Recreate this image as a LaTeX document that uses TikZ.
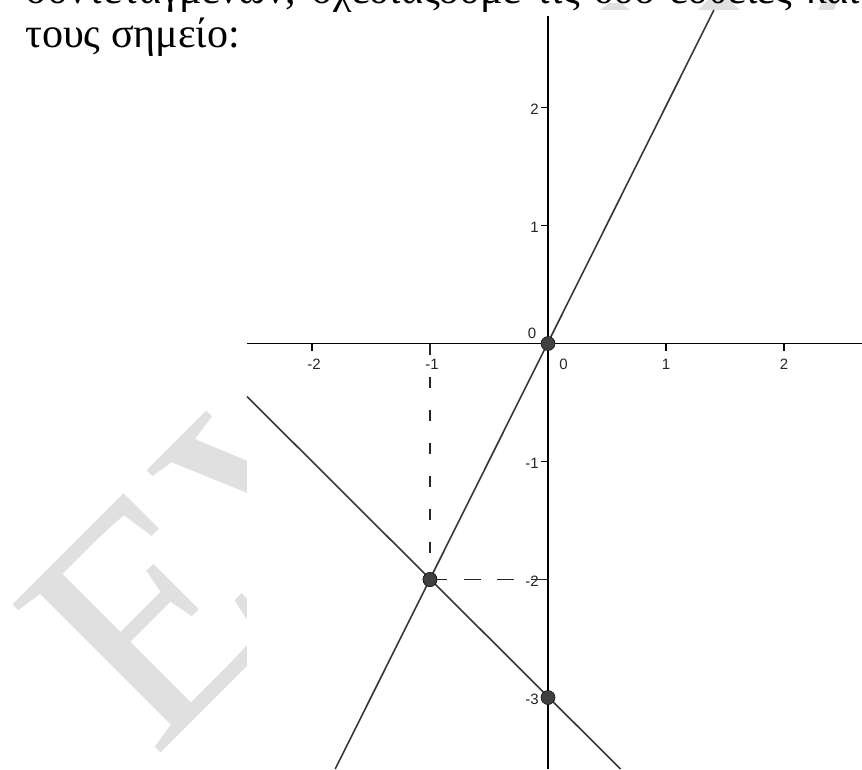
\documentclass[tikz,border=0pt]{standalone}
\usepackage{fontspec}
\setmainfont{Liberation Serif}
\newfontfamily\labfont{Liberation Sans}
\definecolor{wmgray}{RGB}{224,224,224}
\definecolor{curve}{RGB}{55,55,55}
\definecolor{ptfill}{RGB}{64,64,64}
\begin{document}
\begin{tikzpicture}[x=1pt,y=-1pt,
  axisline/.style={line width=1.6pt,black},
  graphline/.style={line width=1.6pt,curve},
  tickmark/.style={line width=1.2pt,black},
  guide/.style={line width=1.4pt,black!85},
  ptdot/.style={circle,fill=ptfill,draw=black!90,line width=0.6pt,minimum size=14pt,inner sep=0pt},
  ticklabel/.style={font=\labfont\fontsize{15}{15}\selectfont,text=black!85,inner sep=0pt},
  bodytext/.style={font=\fontsize{42}{42}\selectfont,anchor=base west,inner sep=0pt},
  watermark/.style={font=\fontsize{320}{320}\selectfont,text=wmgray,anchor=base west,inner sep=0pt,rotate=45}
]
\useasboundingbox (0,0) rectangle (862,769);
% watermark
\node[watermark] (wm) at (154,760) {EV};
\fill[wmgray] (600,10) -- (630,10) -- (621,3) -- (609,3) -- cycle;
\fill[wmgray] (698,10) -- (740,10) -- (729,0) -- (708,0) -- cycle;
\fill[wmgray] (818,10) -- (834,10) -- (838,0) -- (823,0) -- cycle;
% graph area
\fill[white] (247,10) rectangle (862,769);
% coordinates
\coordinate (xl) at (247,343.5);
\coordinate (xr) at (862,343.5);
\coordinate (yt) at (548,16);
\coordinate (yb) at (548,769);
\coordinate (l1a) at (713.9,10);
\coordinate (l1b) at (335.2,769);
\coordinate (l2a) at (247,396.5);
\coordinate (l2b) at (620.5,769);
\coordinate (foot1) at (430,343.5);
\coordinate (foot2) at (548,579.5);
% axes
\draw[axisline] (xl) -- (xr);
\draw[axisline] (yt) -- (yb);
% ticks
\foreach \k in {-2,-1,1,2} \draw[tickmark] ({548+118*\k},343.5) -- ({548+118*\k},350.5);
\foreach \k in {2,1,-1,-2,-3} \draw[tickmark] (541,{343.5-118*\k}) -- (548,{343.5-118*\k});
% tick labels
\node[ticklabel] (xm2) at (314,364) {-2};
\node[ticklabel] (xm1) at (432,364) {-1};
\node[ticklabel] (x0) at (563.5,364) {0};
\node[ticklabel] (x1) at (666,364) {1};
\node[ticklabel] (x2) at (784,364) {2};
\node[ticklabel] (o0) at (532,333) {0};
\node[ticklabel,anchor=east] (y2) at (539,109) {2};
\node[ticklabel,anchor=east] (y1) at (539,227) {1};
\node[ticklabel,anchor=east] (ym1) at (539,463.5) {-1};
\node[ticklabel,anchor=east] (ym2) at (539,581.5) {-2};
\node[ticklabel,anchor=east] (ym3) at (539,699.5) {-3};
% graphs
\draw[graphline] (l1a) -- (l1b);
\draw[graphline] (l2a) -- (l2b);
% points
\node[ptdot] (P) at (430,579.5) {};
\node[ptdot] (O) at (548,343.5) {};
\node[ptdot] (Q) at (548,697.5) {};
% dashed guides
\draw[guide,dash pattern=on 11pt off 22pt] (foot1) -- (P.center);
\draw[guide,dash pattern=on 16.86pt off 16.86pt] (P.center) -- (foot2);
\node[ptdot] (P2) at (P.center) {};
% text
\node[bodytext] (line1) at (25,3) {\hbox to 835pt{συντεταγμένων, σχεδιάζουμε τις δύο ευθείες και}};
\node[bodytext] (line2) at (25,47) {τους σημείο:};
\end{tikzpicture}
\end{document}
